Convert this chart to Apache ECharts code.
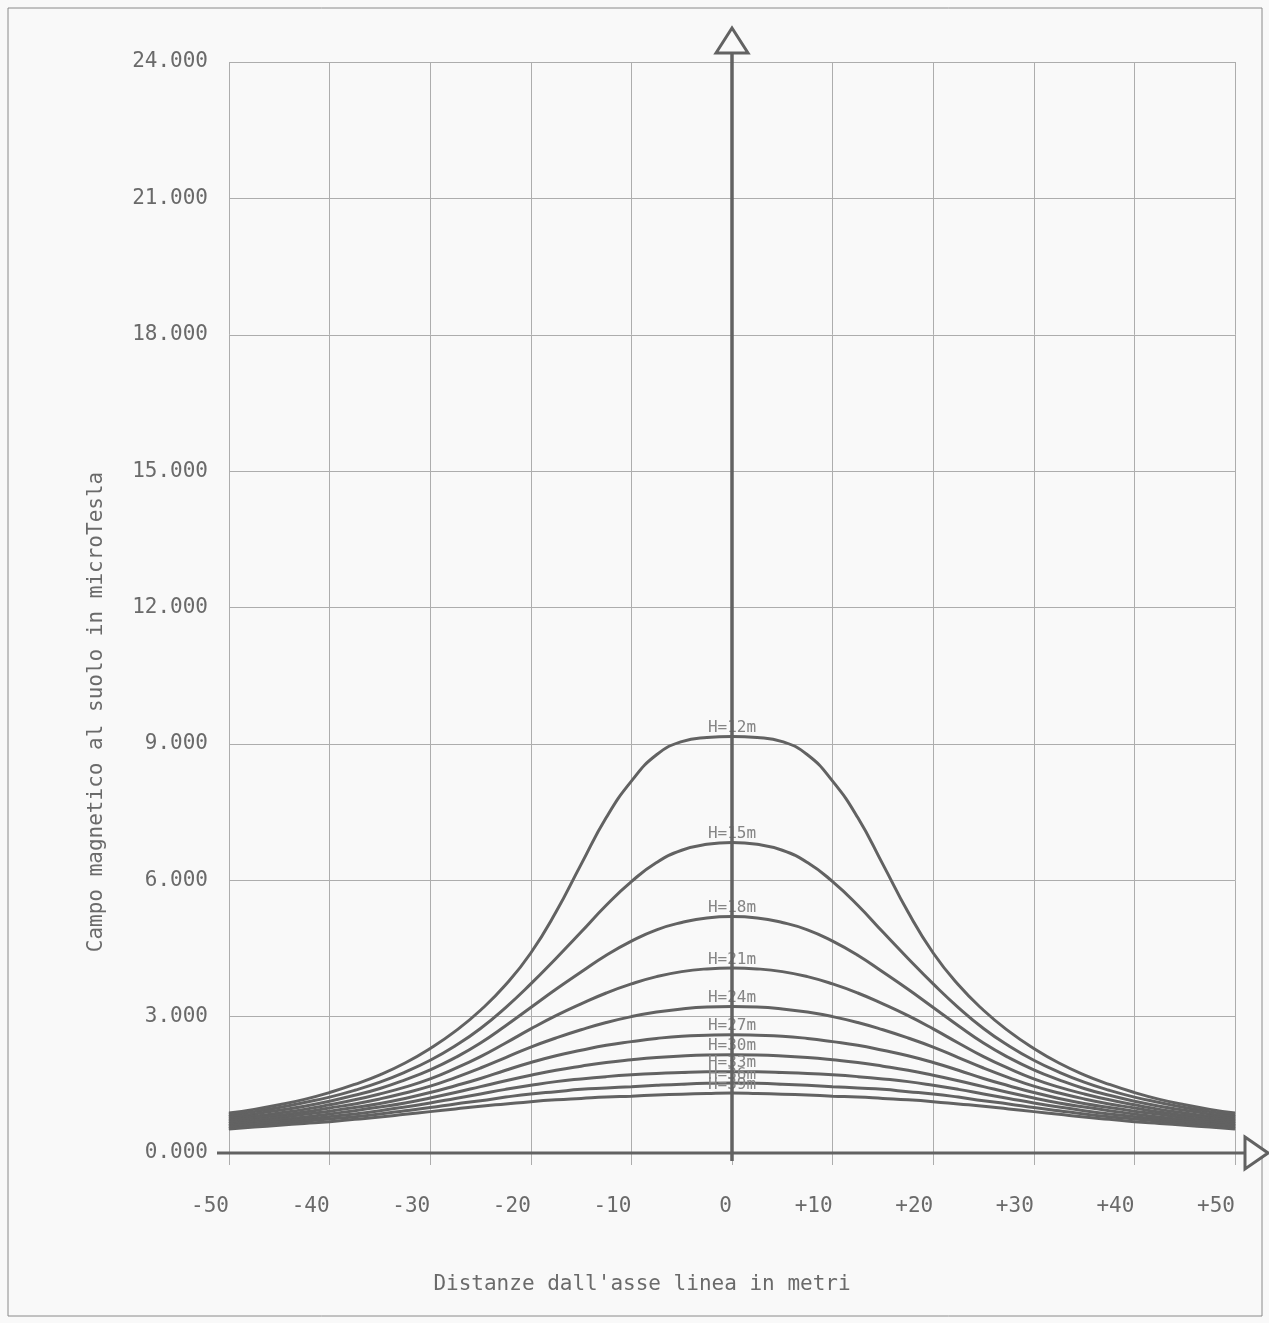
<!DOCTYPE html>
<html>
<head>
<meta charset="utf-8">
<script src="https://cdn.jsdelivr.net/npm/echarts@6/dist/echarts.min.js"></script>
<style>
html,body{margin:0;padding:0;background:#f9f9f9;}
#main{width:1269px;height:1323px;}
</style>
</head>
<body>
<div id="main"></div>
<script>
// Distance from the line axis (m)
const dist = [-50,-47.5,-45,-42.5,-40,-37.5,-35,-32.5,-30,-27.5,-25,-22.5,-20,-17.5,-15,-12.5,-10,-7.5,-5,-2.5,0,
              2.5,5,7.5,10,12.5,15,17.5,20,22.5,25,27.5,30,32.5,35,37.5,40,42.5,45,47.5,50];
// Ground magnetic field (microTesla) for each conductor height H
const h12 = [0.88,0.96,1.06,1.18,1.33,1.51,1.72,1.98,2.30,2.68,3.14,3.70,4.40,5.30,6.35,7.38,8.18,8.76,9.05,9.14,9.16,
             9.14,9.05,8.76,8.18,7.38,6.35,5.30,4.40,3.70,3.14,2.68,2.30,1.98,1.72,1.51,1.33,1.18,1.06,0.96,0.88];
const h15 = [0.83,0.91,1.00,1.11,1.23,1.38,1.56,1.78,2.04,2.36,2.74,3.20,3.72,4.28,4.86,5.45,5.97,6.39,6.66,6.79,6.83,
             6.79,6.66,6.39,5.97,5.45,4.86,4.28,3.72,3.20,2.74,2.36,2.04,1.78,1.56,1.38,1.23,1.11,1.00,0.91,0.83];
const h18 = [0.79,0.86,0.94,1.03,1.14,1.27,1.42,1.61,1.83,2.10,2.42,2.80,3.20,3.60,3.98,4.35,4.66,4.91,5.07,5.17,5.20,
             5.17,5.07,4.91,4.66,4.35,3.98,3.60,3.20,2.80,2.42,2.10,1.83,1.61,1.42,1.27,1.14,1.03,0.94,0.86,0.79];
const h21 = [0.75,0.81,0.88,0.96,1.06,1.17,1.30,1.45,1.63,1.86,2.12,2.42,2.73,3.02,3.28,3.52,3.72,3.88,3.99,4.05,4.07,
             4.05,3.99,3.88,3.72,3.52,3.28,3.02,2.73,2.42,2.12,1.86,1.63,1.45,1.30,1.17,1.06,0.96,0.88,0.81,0.75];
const h24 = [0.71,0.77,0.83,0.90,0.99,1.08,1.19,1.32,1.47,1.66,1.87,2.10,2.33,2.53,2.71,2.87,3.00,3.10,3.17,3.21,3.22,
             3.21,3.17,3.10,3.00,2.87,2.71,2.53,2.33,2.10,1.87,1.66,1.47,1.32,1.19,1.08,0.99,0.90,0.83,0.77,0.71];
const h27 = [0.67,0.72,0.78,0.85,0.92,1.00,1.09,1.20,1.33,1.48,1.64,1.82,1.99,2.14,2.26,2.37,2.45,2.52,2.57,2.59,2.60,
             2.59,2.57,2.52,2.45,2.37,2.26,2.14,1.99,1.82,1.64,1.48,1.33,1.20,1.09,1.00,0.92,0.85,0.78,0.72,0.67];
const h30 = [0.63,0.68,0.73,0.79,0.86,0.93,1.01,1.10,1.21,1.33,1.46,1.59,1.71,1.82,1.91,1.99,2.05,2.10,2.135,2.155,2.16,
             2.155,2.135,2.10,2.05,1.99,1.91,1.82,1.71,1.59,1.46,1.33,1.21,1.10,1.01,0.93,0.86,0.79,0.73,0.68,0.63];
const h33 = [0.60,0.64,0.69,0.74,0.80,0.86,0.93,1.01,1.10,1.20,1.30,1.40,1.49,1.57,1.63,1.68,1.72,1.75,1.77,1.785,1.79,
             1.785,1.77,1.75,1.72,1.68,1.63,1.57,1.49,1.40,1.30,1.20,1.10,1.01,0.93,0.86,0.80,0.74,0.69,0.64,0.60];
const h36 = [0.565,0.60,0.65,0.70,0.75,0.80,0.86,0.93,1.00,1.08,1.15,1.23,1.30,1.35,1.40,1.43,1.46,1.49,1.515,1.533,1.54,
             1.533,1.515,1.49,1.46,1.43,1.40,1.35,1.30,1.23,1.15,1.08,1.00,0.93,0.86,0.80,0.75,0.70,0.65,0.60,0.565];
const h39 = [0.53,0.57,0.61,0.65,0.69,0.74,0.79,0.85,0.91,0.97,1.03,1.08,1.13,1.17,1.20,1.23,1.25,1.275,1.295,1.31,1.32,
             1.31,1.295,1.275,1.25,1.23,1.20,1.17,1.13,1.08,1.03,0.97,0.91,0.85,0.79,0.74,0.69,0.65,0.61,0.57,0.53];
const heights = [12,15,18,21,24,27,30,33,36,39];
const curves = [h12,h15,h18,h21,h24,h27,h30,h33,h36,h39];
const xTitle = "Distanze dall'asse linea in metri";
const yTitle = "Campo magnetico al suolo in microTesla";

const FONT = "'DejaVu Sans Mono', 'Liberation Mono', monospace";
const LINE = '#626262';
const GRID = '#adadad';
const TXT = '#6a6a6a';
const BG = '#f9f9f9';

const chart = echarts.init(document.getElementById('main'), null, {renderer:'canvas'});
const center = dist.indexOf(0);

const series = curves.map((vals, k) => ({
  type: 'line',
  name: 'H=' + heights[k] + 'm',
  smooth: true,
  symbol: 'circle',
  symbolSize: 1,
  showSymbol: true,
  animation: false,
  itemStyle: {color: LINE},
  lineStyle: {color: LINE, width: 3},
  emphasis: {disabled: true},
  z: 3,
  data: dist.map((d, i) => i === center
    ? {value: [d, vals[i]], label: {show: true, position: 'top', distance: 0,
        formatter: 'H=' + heights[k] + 'm', fontFamily: FONT, fontSize: 16, color: '#858585'}}
    : [d, vals[i]])
}));

chart.setOption({
  backgroundColor: BG,
  animation: false,
  grid: {left: 229, right: 34, top: 62, bottom: 170, containLabel: false},
  xAxis: [{
    type: 'value', min: -50, max: 50, interval: 10,
    axisLine: {show: false},
    axisTick: {show: true, length: 12, lineStyle: {color: GRID, width: 1}},
    splitLine: {show: true, lineStyle: {color: GRID, width: 1}},
    axisLabel: {
      show: true, margin: 43, align: 'right', fontFamily: FONT, fontSize: 21, color: TXT,
      showMinLabel: true, showMaxLabel: true,
      formatter: v => v > 0 ? '+' + v : String(v)
    }
  }, {
    type: 'value', position: 'top', min: -50, max: 50, interval: 10,
    axisLine: {show: false},
    axisTick: {show: true, length: 10, lineStyle: {color: GRID, width: 1}},
    splitLine: {show: false}, axisLabel: {show: false}
  }],
  yAxis: [{
    type: 'value', min: 0, max: 24, interval: 3,
    axisLine: {show: false},
    axisTick: {show: true, length: 10, lineStyle: {color: GRID, width: 1}},
    splitLine: {show: true, lineStyle: {color: GRID, width: 1}},
    axisLabel: {show: true, margin: 21, fontFamily: FONT, fontSize: 21, color: TXT,
      formatter: v => v.toFixed(3)}
  }, {
    type: 'value', position: 'right', min: 0, max: 24, interval: 3,
    axisLine: {show: false},
    axisTick: {show: true, length: 10, lineStyle: {color: GRID, width: 1}},
    splitLine: {show: false}, axisLabel: {show: false}
  }],
  series: series
});

// Axis lines with hollow arrow heads, positioned through the chart's own scales
const p0 = chart.convertToPixel({xAxisIndex: 0, yAxisIndex: 0}, [0, 0]);
const pTop = chart.convertToPixel({xAxisIndex: 0, yAxisIndex: 0}, [0, 24]);
const pL = chart.convertToPixel({xAxisIndex: 0, yAxisIndex: 0}, [-50, 0]);
const pR = chart.convertToPixel({xAxisIndex: 0, yAxisIndex: 0}, [50, 0]);
const ax = p0[0], ay = p0[1];
const upBase = pTop[1] - 9, upApex = upBase - 25;
const rBase = pR[0] + 10, rApex = rBase + 23;

chart.setOption({
  graphic: [
    {type: 'rect', shape: {x: 8, y: 8, width: 1254, height: 1308}, silent: true, z: 0,
      style: {fill: 'none', stroke: '#8a8a8a', lineWidth: 1}},
    {type: 'line', z: 10, silent: true, shape: {x1: pL[0] - 12, y1: ay, x2: rBase, y2: ay},
      style: {stroke: LINE, lineWidth: 3}},
    {type: 'polygon', z: 10, silent: true,
      shape: {points: [[rBase, ay - 16], [rApex, ay], [rBase, ay + 16]]},
      style: {fill: BG, stroke: LINE, lineWidth: 3, lineJoin: 'miter'}},
    {type: 'line', z: 10, silent: true, shape: {x1: ax, y1: ay + 8, x2: ax, y2: upBase},
      style: {stroke: LINE, lineWidth: 3.5}},
    {type: 'polygon', z: 10, silent: true,
      shape: {points: [[ax - 16, upBase], [ax, upApex], [ax + 16, upBase]]},
      style: {fill: BG, stroke: LINE, lineWidth: 3, lineJoin: 'miter'}},
    {type: 'text', silent: true, z: 10, x: 642, y: 1285,
      style: {text: xTitle, font: '21px ' + FONT, fill: TXT, align: 'center', verticalAlign: 'middle'}},
    {type: 'text', silent: true, z: 10, x: 97, y: 712, rotation: Math.PI / 2,
      style: {text: yTitle, font: '21px ' + FONT, fill: TXT, align: 'center', verticalAlign: 'middle'}}
  ]
});
</script>
</body>
</html>
